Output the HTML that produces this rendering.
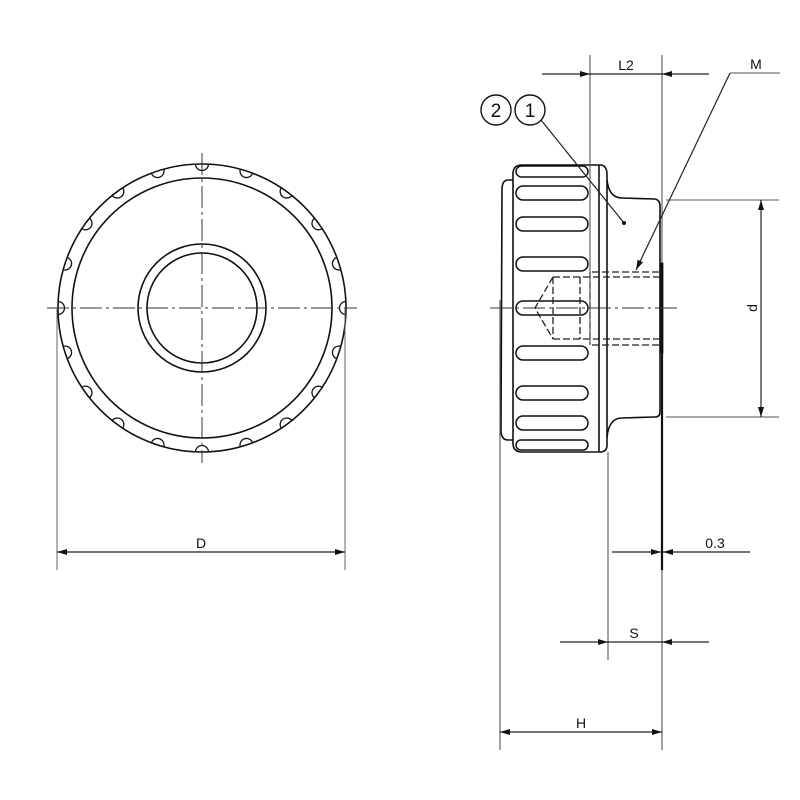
<!DOCTYPE html>
<html><head><meta charset="utf-8"><style>
html,body{margin:0;padding:0;background:#fff;}
svg{display:block;}
text{font-family:"Liberation Sans",Arial,sans-serif;fill:#111;}
</style></head><body>
<svg width="800" height="800" viewBox="0 0 800 800" xmlns="http://www.w3.org/2000/svg">
<defs>
<marker id="a" viewBox="0 0 10 6" refX="10" refY="3" markerWidth="10" markerHeight="6" orient="auto" markerUnits="userSpaceOnUse"><path d="M0,0 L10,3 L0,6 Z" fill="#111"/></marker>
</defs>
<g fill="none" stroke="#111" stroke-width="1.6">
<circle cx="202" cy="308" r="144"/>
<circle cx="202" cy="308" r="130"/>
<circle cx="202" cy="308" r="64"/>
<circle cx="202" cy="308" r="55"/>
</g>
<g fill="none" stroke="#111" stroke-width="1.3">
<path d="M195.5,164 A6.5,6.5 0 0 0 208.5,164" transform="rotate(0 202 308)"/>
<path d="M195.5,164 A6.5,6.5 0 0 0 208.5,164" transform="rotate(18 202 308)"/>
<path d="M195.5,164 A6.5,6.5 0 0 0 208.5,164" transform="rotate(36 202 308)"/>
<path d="M195.5,164 A6.5,6.5 0 0 0 208.5,164" transform="rotate(54 202 308)"/>
<path d="M195.5,164 A6.5,6.5 0 0 0 208.5,164" transform="rotate(72 202 308)"/>
<path d="M195.5,164 A6.5,6.5 0 0 0 208.5,164" transform="rotate(90 202 308)"/>
<path d="M195.5,164 A6.5,6.5 0 0 0 208.5,164" transform="rotate(108 202 308)"/>
<path d="M195.5,164 A6.5,6.5 0 0 0 208.5,164" transform="rotate(126 202 308)"/>
<path d="M195.5,164 A6.5,6.5 0 0 0 208.5,164" transform="rotate(144 202 308)"/>
<path d="M195.5,164 A6.5,6.5 0 0 0 208.5,164" transform="rotate(162 202 308)"/>
<path d="M195.5,164 A6.5,6.5 0 0 0 208.5,164" transform="rotate(180 202 308)"/>
<path d="M195.5,164 A6.5,6.5 0 0 0 208.5,164" transform="rotate(198 202 308)"/>
<path d="M195.5,164 A6.5,6.5 0 0 0 208.5,164" transform="rotate(216 202 308)"/>
<path d="M195.5,164 A6.5,6.5 0 0 0 208.5,164" transform="rotate(234 202 308)"/>
<path d="M195.5,164 A6.5,6.5 0 0 0 208.5,164" transform="rotate(252 202 308)"/>
<path d="M195.5,164 A6.5,6.5 0 0 0 208.5,164" transform="rotate(270 202 308)"/>
<path d="M195.5,164 A6.5,6.5 0 0 0 208.5,164" transform="rotate(288 202 308)"/>
<path d="M195.5,164 A6.5,6.5 0 0 0 208.5,164" transform="rotate(306 202 308)"/>
<path d="M195.5,164 A6.5,6.5 0 0 0 208.5,164" transform="rotate(324 202 308)"/>
<path d="M195.5,164 A6.5,6.5 0 0 0 208.5,164" transform="rotate(342 202 308)"/>
</g>
<g stroke="#333" stroke-width="1" fill="none">
<line x1="47" y1="308" x2="357" y2="308" stroke-dasharray="22,4,3,4"/>
<line x1="202" y1="153" x2="202" y2="463" stroke-dasharray="22,4,3,4"/>
<line x1="57" y1="308" x2="57" y2="570" stroke="#666"/>
<line x1="345" y1="308" x2="345" y2="570" stroke="#666"/>
<line x1="201" y1="552" x2="57" y2="552" marker-end="url(#a)" stroke="#222" stroke-width="1.2"/>
<line x1="201" y1="552" x2="345" y2="552" marker-end="url(#a)" stroke="#222" stroke-width="1.2"/>
</g>
<text x="201" y="548" font-size="14" text-anchor="middle">D</text>

<g fill="none" stroke="#111" stroke-width="1.6">
<path d="M513,180 L508,180 Q502,180 502,190 L501,430 Q501,440 508,440 L513,440"/>
<path d="M522,165 L600,165 Q607,165 607,175 L607,445 Q607,452 600,452 L522,452 Q513,452 513,443 L513,174 Q513,165 522,165 Z"/>
<line x1="599" y1="165" x2="599" y2="452"/>
<path d="M607,180 Q609,198 622,198 L655,199 Q660,200 660,206 L660,412 Q660,417 655,417 L622,418 Q609,418 607,437"/>
<rect x="660" y="263" width="3" height="90" fill="#111" stroke-width="0.8"/>
</g>
<g fill="none" stroke="#111" stroke-width="1.5">
<rect x="516" y="166" width="72" height="11" rx="5.5"/>
<rect x="516" y="186" width="72" height="14" rx="7"/>
<rect x="516" y="217" width="72" height="14" rx="7"/>
<rect x="516" y="257" width="72" height="14" rx="7"/>
<rect x="516" y="301" width="72" height="14" rx="7"/>
<rect x="516" y="346" width="72" height="14" rx="7"/>
<rect x="516" y="386" width="72" height="14" rx="7"/>
<rect x="516" y="416" width="72" height="14" rx="7"/>
<rect x="516" y="440" width="72" height="10" rx="5"/>
</g>
<g fill="none" stroke="#222" stroke-width="1.3" stroke-dasharray="7,3">
<line x1="553" y1="277" x2="553" y2="339"/>
<line x1="553" y1="277" x2="660" y2="277"/>
<line x1="553" y1="339" x2="660" y2="339"/>
<line x1="580" y1="277" x2="580" y2="339"/>
<line x1="590" y1="272" x2="590" y2="345"/>
<line x1="592" y1="272" x2="660" y2="272"/>
<line x1="592" y1="345" x2="660" y2="345"/>
<path d="M553,277 L535,308 L553,339"/>
</g>
<line x1="490" y1="308" x2="680" y2="308" stroke="#333" stroke-width="1" stroke-dasharray="22,4,3,4"/>
<g stroke="#555" stroke-width="1.1" fill="none">
<line x1="590" y1="55" x2="590" y2="345"/>
<line x1="662" y1="55" x2="662" y2="263"/>
<line x1="500" y1="300" x2="500" y2="750"/>
<line x1="662" y1="353" x2="662" y2="750"/>
<line x1="608" y1="452" x2="608" y2="660"/>
<line x1="666" y1="200" x2="779" y2="200"/>
<line x1="666" y1="417" x2="779" y2="417"/>
<line x1="730" y1="73" x2="780" y2="73"/>
</g>
<line x1="662" y1="353" x2="662" y2="570" stroke="#111" stroke-width="2.2"/>
<g stroke="#222" stroke-width="1.2" fill="none">
<line x1="542" y1="74" x2="590" y2="74" marker-end="url(#a)"/>
<line x1="709" y1="74" x2="662" y2="74" marker-end="url(#a)"/>
<line x1="590" y1="74" x2="662" y2="74"/>
<line x1="730" y1="73" x2="636" y2="270" marker-end="url(#a)"/>
<line x1="761" y1="308" x2="761" y2="200" marker-end="url(#a)"/>
<line x1="761" y1="308" x2="761" y2="417" marker-end="url(#a)"/>
<line x1="612" y1="552" x2="661" y2="552" marker-end="url(#a)"/>
<line x1="750" y1="552" x2="663" y2="552" marker-end="url(#a)"/>
<line x1="560" y1="642" x2="608" y2="642" marker-end="url(#a)"/>
<line x1="709" y1="642" x2="662" y2="642" marker-end="url(#a)"/>
<line x1="608" y1="642" x2="662" y2="642"/>
<line x1="581" y1="732" x2="500" y2="732" marker-end="url(#a)"/>
<line x1="581" y1="732" x2="662" y2="732" marker-end="url(#a)"/>
<line x1="541" y1="120" x2="624" y2="223"/>
</g>
<circle cx="624" cy="223" r="2" fill="#111"/>
<g fill="#fff" stroke="#111" stroke-width="1.4">
<circle cx="496" cy="110" r="15"/>
<circle cx="530" cy="110" r="15"/>
</g>
<text x="496" y="117" font-size="19" text-anchor="middle">2</text>
<text x="530" y="117" font-size="19" text-anchor="middle">1</text>
<text x="626" y="70" font-size="14" text-anchor="middle">L2</text>
<text x="756" y="69" font-size="14" text-anchor="middle">M</text>
<text x="715" y="548" font-size="14" text-anchor="middle">0.3</text>
<text x="634" y="638" font-size="14" text-anchor="middle">S</text>
<text x="581" y="728" font-size="14" text-anchor="middle">H</text>
<text x="0" y="0" font-size="14" text-anchor="middle" transform="translate(757,308) rotate(-90)">d</text>
</svg>
</body></html>
